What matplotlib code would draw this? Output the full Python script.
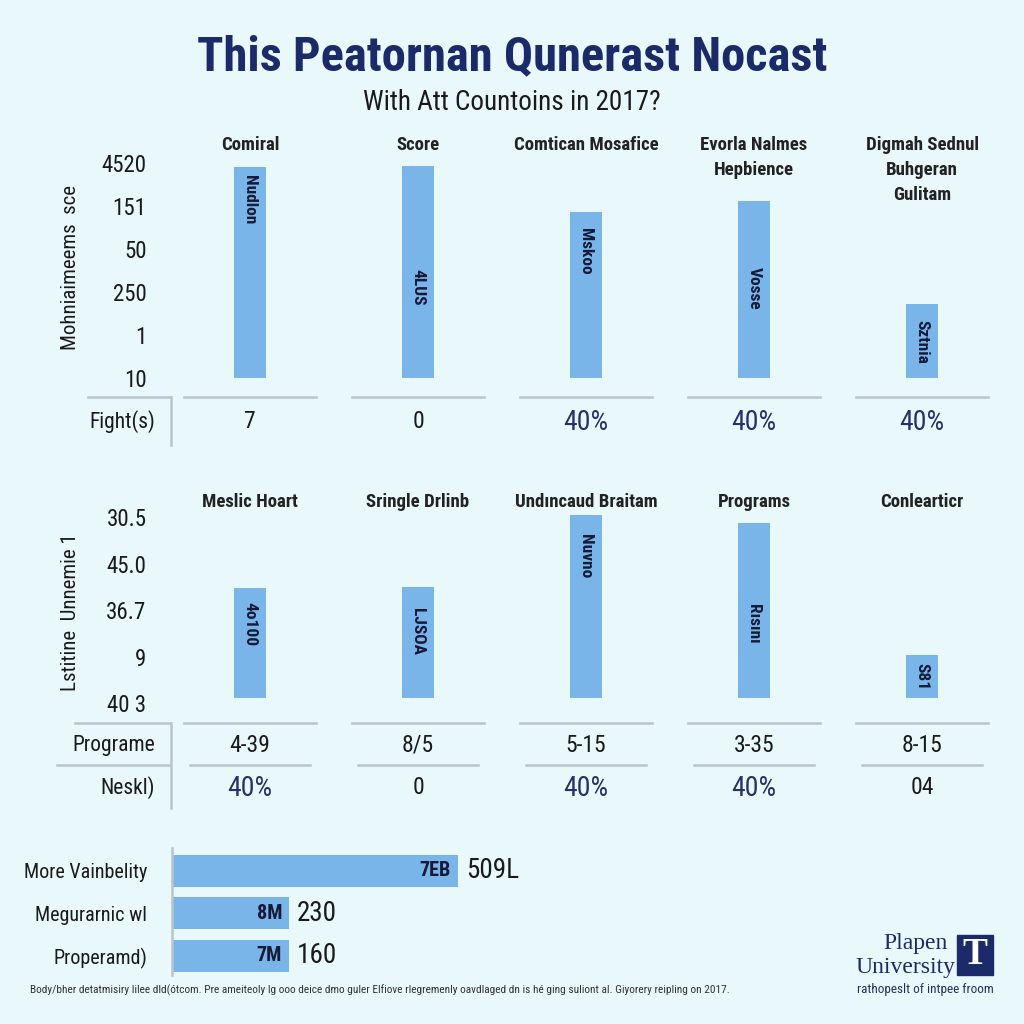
import numpy as np
import matplotlib
matplotlib.use('Agg')
import matplotlib.pyplot as plt
from matplotlib import font_manager
from matplotlib.lines import Line2D
from matplotlib.patches import Rectangle
from matplotlib.transforms import blended_transform_factory

# ---- data ----
top_cats = ['Comiral', 'Score', 'Comtican Mosafice', 'Evorla Nalmes\nHepbience',
            'Digmah Sednul\nBuhgeran\nGulitam']
top_vals = [4.9, 4.93, 3.86, 4.12, 1.72]
top_ticks = ['10', '1', '250', '50', '151', '4520']
top_inner = ['Nudlon', '4LUS', 'Mskoo', 'Vosse', 'Sztnia']
fight_row = ['7', '0', '40%', '40%', '40%']

mid_cats = ['Meslic Hoart', 'Sringle Drlinb', 'Undıncaud Braitam', 'Programs', 'Conlearticr']
mid_vals = [2.38, 2.4, 3.96, 3.79, 0.93]
mid_ticks = ['40 3', '9', '36.7', '45.0', '30.5']
mid_inner = ['4o100', 'LJSOA', 'Nuvno', 'Rısını', 'S81']
programe_row = ['4-39', '8/5', '5-15', '3-35', '8-15']
neskl_row = ['40%', '0', '40%', '40%', '04']

bottom_cats = ['More Vainbelity', 'Megurarnic wl', 'Properamd)']
bottom_vals = [286, 117, 117]
bottom_inner = ['7EB', '8M', '7M']
bottom_outer = ['509L', '230', '160']

footer = ('Body/bher detatmisiry lilee dld(ótcom. Pre ameiteoly lg ooo deice dmo guler '
          'Elfiove rlegremenly oavdlaged dn is hé ging suliont al. Giyorery reipling on 2017.')

# ---- style ----
BG = '#e9f8fa'
BAR = '#79b5e9'
NAVY = '#1b2a68'
LINE = '#b9c5cc'
INK = '#1a1a1a'

names = {f.name for f in font_manager.fontManager.ttflist}


def pick(*cands):
    for c in cands:
        if c in names:
            return c
    return 'DejaVu Sans'


NARROW = pick('Liberation Sans Narrow', 'Roboto Condensed', 'Roboto', 'Lato')
SERIF = pick('Liberation Serif', 'DejaVu Serif')
plt.rcParams['font.family'] = [NARROW, 'DejaVu Sans']

fig = plt.figure(figsize=(10.24, 10.24), dpi=100)
fig.patch.set_facecolor(BG)


def fx(px):
    return px / 1024


def fy(py):
    return 1 - py / 1024


def hline(x0, x1, y, trans=None):
    fig.add_artist(Line2D([x0, x1], [fy(y), fy(y)], color=LINE, lw=1.8,
                          transform=trans if trans is not None else fig.transFigure))


def vline(x, y0, y1):
    fig.add_artist(Line2D([fx(x), fx(x)], [fy(y0), fy(y1)], color=LINE, lw=1.8,
                          transform=fig.transFigure))


def bar_panel(rect, cats, vals, ticks, tick_pos, inner, inner_y, ylim, head_y):
    ax = fig.add_axes(rect)
    ax.patch.set_alpha(0)
    x = np.arange(len(cats))
    ax.bar(x, vals, width=0.19, color=BAR)
    ax.set_xlim(-0.5, 4.5)
    ax.set_ylim(*ylim)
    ax.set_yticks(tick_pos, ticks)
    ax.tick_params(axis='y', length=0, pad=14, labelsize=16.5, labelcolor=INK)
    ax.set_xticks([])
    for s in ax.spines.values():
        s.set_visible(False)
    for xi, c in zip(x, cats):
        ax.text(xi, head_y, c, ha='center', va='top', fontsize=13.5, fontweight='bold',
                color='#222222', linespacing=1.5)
    for xi, t, ty in zip(x, inner, inner_y):
        ax.text(xi, ty, t, ha='center', va='center', rotation=270, fontsize=12.5,
                fontweight='bold', color='#141a38')
    return ax


def value_row(ax, label, values, y):
    trans = blended_transform_factory(ax.transData, fig.transFigure)
    fig.text(fx(155), fy(y), label, ha='right', va='center', fontsize=15.5, color=INK)
    for xi, v in zip(range(len(values)), values):
        if '%' in v:
            ax.text(xi, fy(y), v, transform=trans, ha='center', va='center',
                    fontsize=20, color='#2a2f6e')
        else:
            ax.text(xi, fy(y), v, transform=trans, ha='center', va='center',
                    fontsize=17, color=INK)


# ---- title ----
fig.text(0.5, fy(57), 'This Peatornan Qunerast Nocast', ha='center', va='center',
         fontsize=35, fontweight='bold', color=NAVY)
fig.text(0.5, fy(103), 'With Att Countoins in 2017?', ha='center', va='center',
         fontsize=19.5, color=INK)

# ---- top panel ----
ax1 = bar_panel([fx(166), fy(378), fx(840), 5.2 * 43 / 1024],
                top_cats, top_vals, top_ticks, np.arange(6),
                top_inner, [4.14, 2.12, 2.95, 2.09, 0.84], (0, 5.2), 5.63)
fig.text(fx(70), fy(267), 'Mohniaimeems  sce', rotation=90, ha='center', va='center',
         fontsize=15, color=INK)
t1 = blended_transform_factory(ax1.transData, fig.transFigure)
hline(fx(88), fx(170), 397)
for xi in range(5):
    hline(xi - 0.39, xi + 0.39, 397, t1)
vline(171, 397, 445)
value_row(ax1, 'Fight(s)', fight_row, 422)

# ---- middle panel ----
ax2 = bar_panel([fx(166), fy(703), fx(840), 4.2 * 47.5 / 1024],
                mid_cats, mid_vals, mid_ticks, np.arange(5) - 0.1,
                mid_inner, [1.6, 1.45, 3.07, 1.6, 0.48], (0, 4.2), 4.42)
fig.text(fx(70), fy(612), 'Lstitine  Unnemie 1', rotation=90, ha='center', va='center',
         fontsize=15, color=INK)
t2 = blended_transform_factory(ax2.transData, fig.transFigure)
hline(fx(75), fx(170), 723)
hline(fx(57), fx(170), 765)
for xi in range(5):
    hline(xi - 0.39, xi + 0.39, 723, t2)
    hline(xi - 0.36, xi + 0.36, 765, t2)
vline(171, 723, 808)
value_row(ax2, 'Programe', programe_row, 745)
value_row(ax2, 'Neskl)', neskl_row, 788)

# ---- bottom horizontal bars ----
ax3 = fig.add_axes([fx(172), fy(975), fx(388), 127 / 1024])
ax3.patch.set_alpha(0)
yb = np.arange(len(bottom_cats))
ax3.barh(yb, bottom_vals, height=0.75, color=BAR)
ax3.set_xlim(0, 388)
ax3.set_ylim(2.45, -0.54)
ax3.set_yticks(yb, bottom_cats)
ax3.tick_params(axis='y', length=0, pad=18, labelsize=14.5, labelcolor=INK)
ax3.set_xticks([])
for k, s in ax3.spines.items():
    s.set_visible(k == 'left')
ax3.spines['left'].set_color(LINE)
ax3.spines['left'].set_linewidth(1.8)
for i, (v, a, b) in enumerate(zip(bottom_vals, bottom_inner, bottom_outer)):
    ax3.text(v - 7, i, a, ha='right', va='center', fontsize=14.5, fontweight='bold', color='#141a38')
    ax3.text(v + 8, i, b, ha='left', va='center', fontsize=19.5, color=INK)

# ---- footer & logo ----
fig.text(fx(30), fy(990), footer, ha='left', va='center', fontsize=8.2, color='#333333')
fig.text(fx(948), fy(943), 'Plapen', ha='right', va='center', fontsize=17,
         family=SERIF, color=NAVY)
fig.text(fx(955), fy(968), 'University', ha='right', va='center', fontsize=17,
         family=SERIF, color=NAVY)
fig.add_artist(Rectangle((fx(957), fy(975)), fx(36), 40 / 1024, color=NAVY,
                         transform=fig.transFigure))
fig.text(fx(975), fy(955), 'T', ha='center', va='center', fontsize=27, fontweight='bold',
         family=SERIF, color='white')
fig.text(fx(925), fy(990), 'rathopeslt of intpee froom', ha='center', va='center',
         fontsize=9.5, color='#22305e')

fig.savefig('out.png', dpi=100, facecolor=BG)
